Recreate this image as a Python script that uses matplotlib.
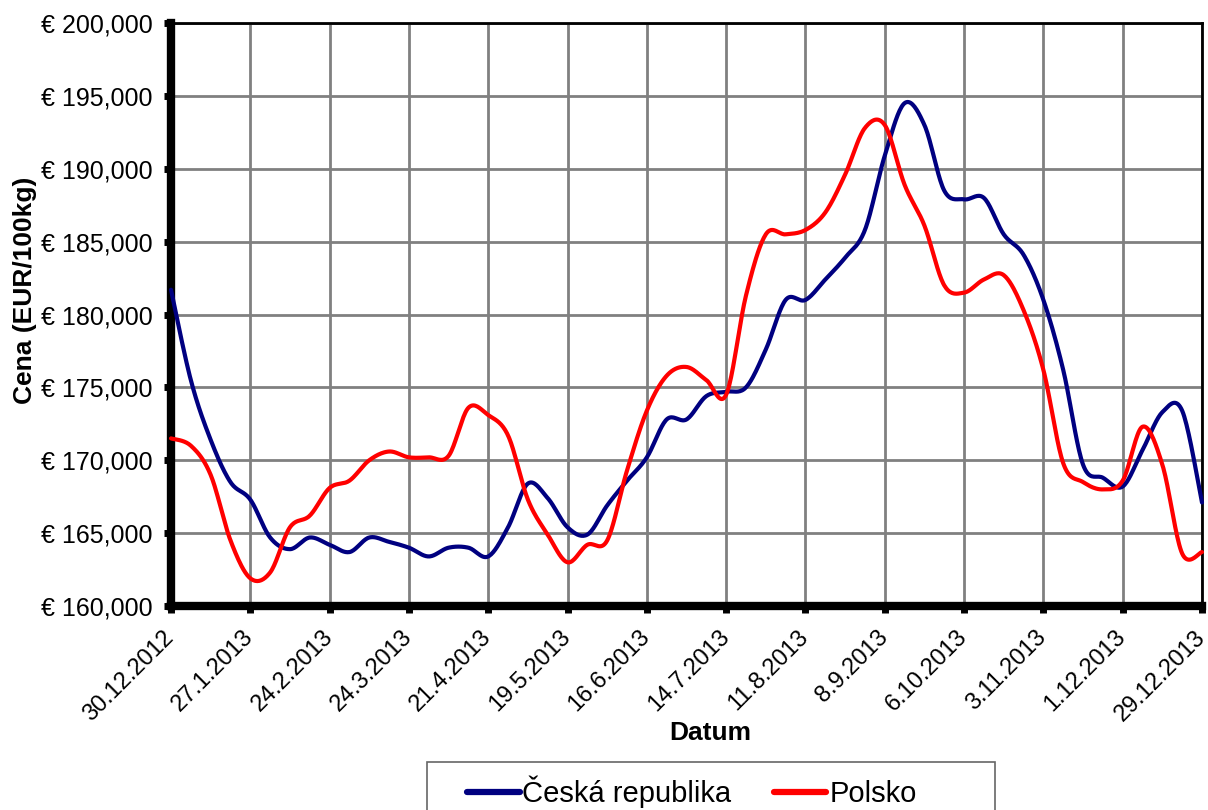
import numpy as np
import pandas as pd
import matplotlib
matplotlib.use("Agg")
import matplotlib.pyplot as plt
import matplotlib.dates as mdates
import matplotlib.transforms as mtransforms
from matplotlib.ticker import FuncFormatter
from matplotlib.lines import Line2D
from matplotlib.patches import Rectangle

plt.rcParams["font.family"] = ["Liberation Sans", "DejaVu Sans"]

# weekly prices (EUR/100kg), first week 30.12.2012
start = "2012-12-30"
n_weeks = 53
cz = [181.7, 175.5, 171.4, 168.5, 167.3, 164.7, 163.9, 164.7, 164.2, 163.7,
      164.7, 164.4, 164.0, 163.4, 164.0, 164.0, 163.4, 165.4, 168.4, 167.4,
      165.4, 164.9, 166.9, 168.6, 170.2, 172.8, 172.8, 174.4, 174.7, 175.0,
      177.6, 181.0, 181.0, 182.4, 183.9, 185.8, 190.9, 194.5, 193.0, 188.5,
      187.9, 188.0, 185.5, 184.1, 181.0, 176.2, 169.7, 168.8, 168.2, 170.7,
      173.3, 173.4, 167.1]
pl = [171.5, 171.0, 169.0, 164.5, 161.9, 162.3, 165.4, 166.2, 168.1, 168.6,
      170.0, 170.6, 170.2, 170.2, 170.3, 173.6, 173.1, 171.7, 167.3, 164.9,
      163.0, 164.2, 164.5, 169.3, 173.4, 175.8, 176.4, 175.5, 174.5, 181.3,
      185.5, 185.5, 185.8, 187.0, 189.6, 192.8, 193.0, 188.9, 186.1, 182.0,
      181.5, 182.4, 182.7, 180.3, 176.2, 169.8, 168.5, 168.0, 168.6, 172.3,
      169.7, 163.6, 163.7]
cz = [v * 1000 for v in cz]
pl = [v * 1000 for v in pl]
series_names = ["Česká republika", "Polsko"]
colors = ["#000080", "#FF0000"]

dates = pd.date_range(start, periods=n_weeks, freq="7D")
tick_dates = pd.date_range(start, periods=14, freq="28D")
tick_labels = [f"{d.day}.{d.month}.{d.year}" for d in tick_dates]


def smooth(x, y, k=20):
    # Excel-like smoothed line: cubic bezier with catmull-rom control points
    x = np.asarray(x, float)
    y = np.asarray(y, float)
    px = np.concatenate([[x[0]], x, [x[-1]]])
    py = np.concatenate([[y[0]], y, [y[-1]]])
    t = np.linspace(0, 1, k, endpoint=False)[:, None]
    xs, ys = [], []
    for i in range(1, len(px) - 2):
        p0 = np.array([px[i], py[i]])
        p3 = np.array([px[i + 1], py[i + 1]])
        p1 = p0 + (np.array([px[i + 1], py[i + 1]]) - np.array([px[i - 1], py[i - 1]])) / 6
        p2 = p3 - (np.array([px[i + 2], py[i + 2]]) - np.array([px[i], py[i]])) / 6
        b = ((1 - t) ** 3) * p0 + 3 * ((1 - t) ** 2) * t * p1 + 3 * (1 - t) * t ** 2 * p2 + t ** 3 * p3
        xs.append(b[:, 0])
        ys.append(b[:, 1])
    xs.append([x[-1]])
    ys.append([y[-1]])
    return np.concatenate(xs), np.concatenate(ys)


fig = plt.figure(figsize=(12.08, 8.1), dpi=100)
ax = fig.add_axes([171 / 1208, 1 - 606 / 810, 1031 / 1208, 583 / 810])

xnum = mdates.date2num(dates)
for vals, c in zip([cz, pl], colors):
    sx, sy = smooth(xnum, vals)
    ax.plot(sx, sy, color=c, lw=3, solid_capstyle="round", zorder=3, clip_on=False)

ax.set_xlim(mdates.date2num(tick_dates[0]), mdates.date2num(tick_dates[-1]))
ax.set_ylim(160000, 200000)
ax.set_xticks(mdates.date2num(tick_dates))
ax.set_xticklabels([])
# rotated date labels, nudged left so the last one stays inside the figure
shift = mtransforms.ScaledTranslation(-5.8 / 72, -14.5 / 72, fig.dpi_scale_trans)
for d, lab in zip(mdates.date2num(tick_dates), tick_labels):
    ax.text(d, 0, lab, transform=ax.get_xaxis_transform() + shift,
            rotation=45, ha="right", va="top", rotation_mode="anchor", fontsize=17)
ax.set_yticks(np.arange(160000, 200001, 5000))
ax.yaxis.set_major_formatter(FuncFormatter(lambda v, p: "€ {:,.0f}".format(v)))
ax.tick_params(axis="y", labelsize=18, length=5, width=5, direction="out", pad=8)
ax.tick_params(axis="x", length=5, width=5, direction="out")

ax.grid(True, color="#808080", lw=2)
ax.set_axisbelow(True)
ax.spines["left"].set_linewidth(6)
ax.spines["bottom"].set_linewidth(6)
ax.spines["top"].set_linewidth(2)
ax.spines["right"].set_linewidth(2)

ax.set_ylabel("Cena (EUR/100kg)", fontsize=19, fontweight="bold", va="center")
ax.yaxis.set_label_coords(-0.1416, 0.542)
ax.set_xlabel("Datum", fontsize=19, fontweight="bold", va="center")
ax.xaxis.set_label_coords(0.523, -0.218)

# legend box (runs off the bottom of the figure, as in the original)
fig.patches.append(Rectangle((427 / 1208, -0.05), (995 - 427) / 1208, 0.05 + 1 - 762 / 810,
                             transform=fig.transFigure, fill=False,
                             edgecolor="#666666", lw=1.2))
handles = [Line2D([], [], color=c, lw=4.5, solid_capstyle="round") for c in colors]
fig.legend(handles, series_names, loc="center left",
           bbox_to_anchor=(467 / 1208, 1 - 792 / 810), ncol=2,
           fontsize=21, frameon=False, handlelength=1.8,
           handletextpad=0.1, columnspacing=1.45, borderpad=0,
           borderaxespad=0)

fig.savefig("out.png", dpi=100)
